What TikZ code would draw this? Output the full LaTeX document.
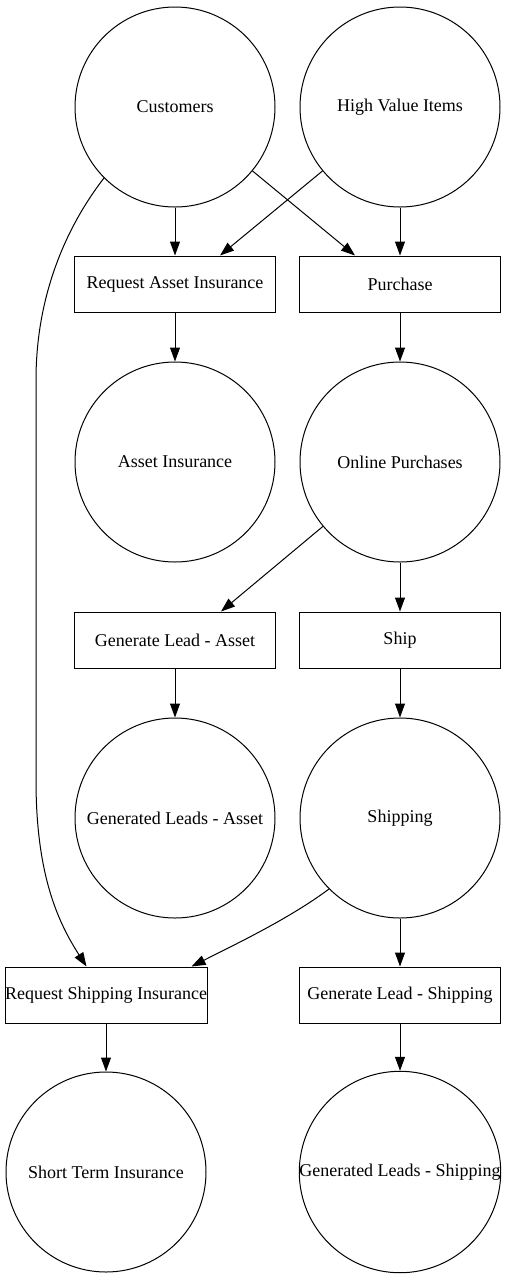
\documentclass[tikz,border=0pt]{standalone}
\usepackage{fontspec}
\setmainfont{Liberation Serif}
\usepackage{tikz}
\usetikzlibrary{calc,arrows.meta}
\tikzset{
	>={Triangle[length=14pt,width=10pt]},   % graphviz-like heads
	pool/.style={draw, circle, minimum size=200pt, inner sep=0pt, line width=1pt},
	task/.style={draw, rectangle, minimum width=201pt, minimum height=56pt, inner sep=0pt, line width=1pt},
	flow/.style={->, line width=1pt}
}

\begin{document}
\begin{tikzpicture}[x=1pt,y=-1pt,font=\fontsize{18}{21}\selectfont]
		\useasboundingbox (0,0) rectangle (507,1278);
		% stores (circles)
		\node[pool] (cust) at (175,107) {Customers};
		\node[pool] (hvi) at (400,107) {High Value Items};
		\node[pool] (assetins) at (175,462) {Asset Insurance};
		\node[pool] (online) at (400,462) {Online Purchases};
		\node[pool] (leadsasset) at (175,818) {Generated Leads - Asset};
		\node[pool] (shipping) at (400,818) {Shipping};
		\node[pool] (shortins) at (106,1172) {Short Term Insurance};
		\node[pool] (leadsship) at (400,1172) {Generated Leads - Shipping};
		
		% processes (boxes)
		\node[task] (reqasset) at (175,284) {Request Asset Insurance};
		\node[task] (purchase) at (400,284) {Purchase};
		\node[task] (genasset) at (175,640) {Generate Lead - Asset};
		\node[task] (ship) at (400,640) {Ship};
		\node[task, minimum width=202pt] (reqship) at (106,995) {Request Shipping Insurance};
		\node[task] (genship) at (400,995) {Generate Lead - Shipping};
		
		% edges
		\draw[flow] (cust) -- (reqasset);
		\draw[flow] (cust) -- ($(purchase.north)+(-45,0)$);
		\draw[flow] (hvi) -- ($(reqasset.north)+(45,0)$);
		\draw[flow] (hvi) -- (purchase);
		\draw[flow] (reqasset) -- (assetins);
		\draw[flow] (purchase) -- (online);
		\draw[flow] (online) -- ($(genasset.north)+(46,0)$);
		\draw[flow] (online) -- (ship);
		\draw[flow] (genasset) -- (leadsasset);
		\draw[flow] (ship) -- (shipping);
		\draw[flow] (shipping.225) .. controls (290,918) and (240,942) .. ($(reqship.north east)+(-16,0)$);
		\draw[flow] (shipping) -- (genship);
		\draw[flow] (cust.225) .. controls (70,222) and (36,290) .. (36,380)
			-- (36,780) .. controls (36,875) and (58,922) .. ($(reqship.north west)+(82,0)$);
		\draw[flow] (reqship) -- (shortins);
		\draw[flow] (genship) -- (leadsship);
	\end{tikzpicture}
\end{document}
